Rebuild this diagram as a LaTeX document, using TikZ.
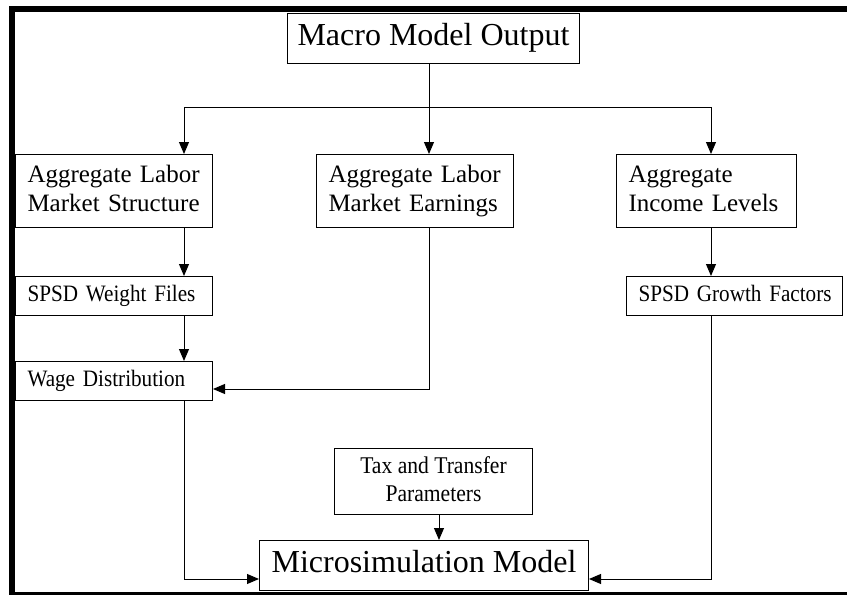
\documentclass[tikz,border=0pt]{standalone}
\usepackage{fontspec}
\setmainfont{Liberation Serif}
\newfontfamily\narrowserif{Liberation Serif}[FakeStretch=0.9]
\usetikzlibrary{arrows.meta}
\begin{document}
\begin{tikzpicture}[x=1pt,y=-1pt,
  box/.style={draw, line width=1pt, inner sep=0pt, anchor=north west},
  big/.style={font=\fontsize{32}{36}\selectfont},
  mid/.style={font=\fontsize{25}{29}\selectfont, align=left},
  small/.style={font=\narrowserif\fontsize{23.5}{27}\selectfont, align=left},
  taxfont/.style={font=\narrowserif\fontsize{24}{28}\selectfont, align=center},
  conn/.style={line width=1pt, -{Triangle[length=12pt,width=10pt]}},
  wire/.style={line width=1pt}]
\useasboundingbox (0,0) rectangle (847,595);
\begin{scope}
  \clip (0,0) rectangle (847,595);
  \draw[line width=6pt] (11.5,9) rectangle (870,595);
\end{scope}

\node[box, big, minimum width=292pt, minimum height=50pt] (macro) at (287,13) {Macro Model Output\strut};
\node[box, mid, minimum width=197pt, minimum height=73pt, text width=173pt] (als) at (15,154) {\mbox{Aggregate Labor}\strut\\\mbox{Market Structure}\strut};
\node[box, mid, minimum width=197pt, minimum height=73pt, text width=173pt] (ale) at (316,154) {\mbox{Aggregate Labor}\strut\\\mbox{Market Earnings}\strut};
\node[box, mid, minimum width=180pt, minimum height=73pt, text width=156pt] (ail) at (616,154) {\mbox{Aggregate}\strut\\\mbox{Income Levels}\strut};
\node[box, small, minimum width=197pt, minimum height=39pt, text width=173pt] (swf) at (15,276) {\mbox{SPSD Weight Files}\strut};
\node[box, small, minimum width=197pt, minimum height=39pt, text width=173pt] (wd) at (15,361) {\mbox{Wage Distribution}\strut};
\node[box, small, minimum width=216pt, minimum height=39pt, text width=192pt] (sgf) at (626,276) {\mbox{SPSD Growth Factors}\strut};
\node[box, taxfont, minimum width=198pt, minimum height=66pt] (tax) at (334,448) {Tax and Transfer\strut\\Parameters\strut};
\node[box, big, minimum width=329pt, minimum height=50pt] (micro) at (259,540) {Microsimulation Model\strut};

\coordinate (j) at (429,107);
\coordinate (cl) at (184,107);
\coordinate (cr) at (711,107);
\coordinate (ew) at (429,389);
\coordinate (bl) at (184,579);
\coordinate (br) at (711,579);
\coordinate (tx) at (439,530);

\draw[wire] (macro.south -| j) -- (j);
\draw[wire] (cl) -- (cr);
\draw[conn] (j) -- (ale.north -| j);
\draw[conn] (cl) -- (als.north -| cl);
\draw[conn] (cr) -- (ail.north -| cr);
\draw[conn] (als.south -| cl) -- (swf.north -| cl);
\draw[conn] (swf.south -| cl) -- (wd.north -| cl);
\draw[conn] (ale.south -| ew) -- (ew) -- (wd.east |- ew);
\draw[conn] (ail.south -| cr) -- (sgf.north -| cr);
\draw[conn] (wd.south -| bl) -- (bl) -- (micro.west |- bl);
\draw[conn] (sgf.south -| br) -- (br) -- (micro.east |- br);
\draw[conn] (tax.south -| tx) -- (micro.north -| tx);
\end{tikzpicture}
\end{document}
